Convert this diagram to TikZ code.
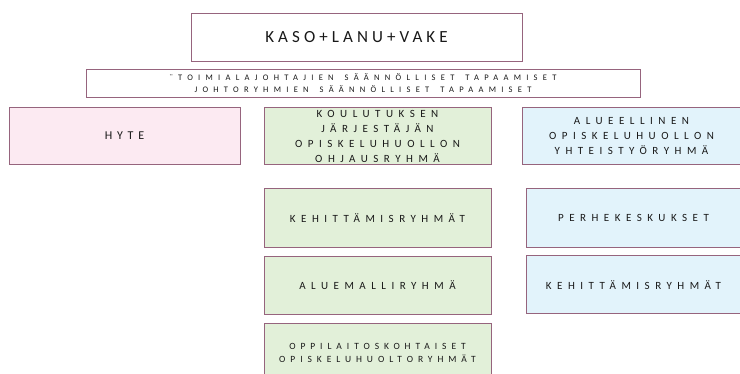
\documentclass[tikz,border=0pt]{standalone}
\usepackage{fontspec}
\setmainfont{Carlito}
\usepackage{tikz}
\usetikzlibrary{positioning}
\definecolor{boxline}{RGB}{150,100,125}
\definecolor{boxtext}{RGB}{25,25,25}
\definecolor{hytefill}{RGB}{252,234,242}
\definecolor{opfill}{RGB}{226,240,217}
\definecolor{aluefill}{RGB}{226,243,251}
\newcommand{\spacedfont}[3]{\fontsize{#1}{#2}\selectfont\addfontfeature{LetterSpace=#3}}
\newcommand{\wgap}{\hspace{11pt}}

\begin{document}
\begin{tikzpicture}[
  x=1pt, y=-1pt,
  orgbox/.style={
    rectangle, draw=boxline, line width=0.8pt, fill=white,
    text=boxtext, align=center, inner sep=0pt,
    font=\spacedfont{11}{14.7}{50}
  },
  hytebox/.style={orgbox, fill=hytefill, minimum width=231pt, minimum height=57pt},
  opbox/.style={orgbox, fill=opfill, minimum width=227pt},
  aluebox/.style={orgbox, fill=aluefill}
]
\useasboundingbox (0,0) rectangle (740,374);
\clip (0,0) rectangle (740,374);

% top level
\node[orgbox, minimum width=331pt, minimum height=48pt,
  font=\spacedfont{17}{20}{24}] (kaso) at (356.5,37) {KASO+LANU+VAKE};
\node[orgbox, minimum width=554pt, minimum height=28pt,
  font=\spacedfont{8.5}{12.5}{62}] (tapaamiset) at (363,83) {%
  ¨TOIMIALAJOHTAJIEN\wgap SÄÄNNÖLLISET\wgap TAPAAMISET\\
  JOHTORYHMIEN\wgap SÄÄNNÖLLISET\wgap TAPAAMISET};

% ryhmat
\node[hytebox, font=\spacedfont{12}{14}{40}] (hyte) at (124.5,135.5) {HYTE};
\node[opbox, minimum height=57pt, font=\spacedfont{11}{15}{50}] (ohjaus) at (377.5,136) {%
  KOULUTUKSEN\\JÄRJESTÄJÄN\\OPISKELUHUOLLON\\OHJAUSRYHMÄ};
\node[aluebox, minimum width=219pt, minimum height=57pt] (alue) at (631.5,136) {%
  ALUEELLINEN\\OPISKELUHUOLLON\\YHTEISTYÖRYHMÄ};

% opiskeluhuolto
\node[opbox, minimum height=59pt, below=23pt of ohjaus] (kehit) {KEHITTÄMISRYHMÄT};
\node[opbox, minimum height=58pt, below=8pt of kehit] (aluemalli) {ALUEMALLIRYHMÄ};
\node[opbox, minimum height=58pt, below=9pt of aluemalli,
  font=\spacedfont{9.5}{13}{52}] (oppilaitos) {%
  OPPILAITOSKOHTAISET\\OPISKELUHUOLTORYHMÄT};

% alueelliset
\node[aluebox, minimum width=215pt, minimum height=59pt] (perhe) at (633.5,217.5) {PERHEKESKUKSET};
\node[aluebox, minimum width=215pt, minimum height=58pt, below=8pt of perhe] (kehitalue) {KEHITTÄMISRYHMÄT};

\end{tikzpicture}
\end{document}
